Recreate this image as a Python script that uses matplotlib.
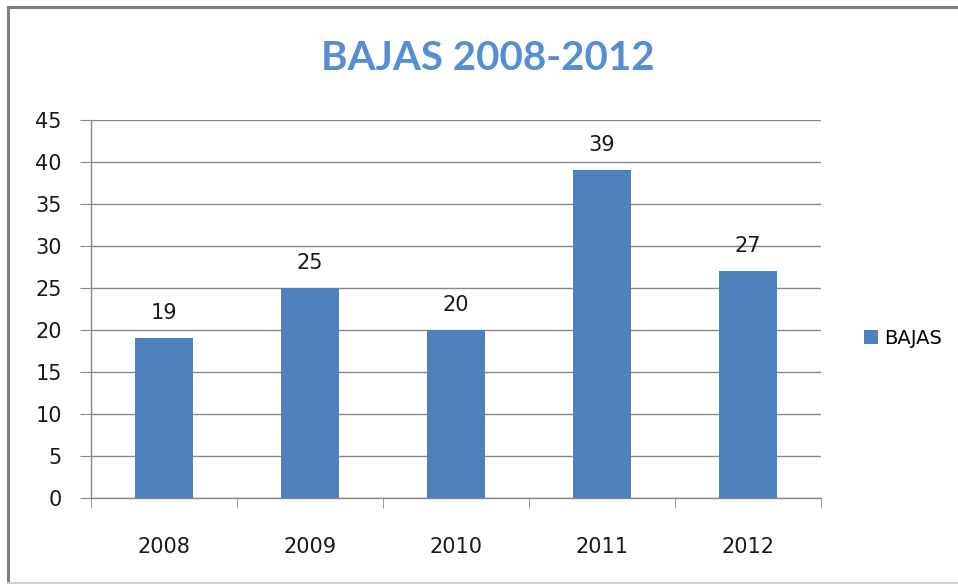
import matplotlib.pyplot as plt
from matplotlib.lines import Line2D

years = ["2008", "2009", "2010", "2011", "2012"]
bajas = [19, 25, 20, 39, 27]
yticks = [0, 5, 10, 15, 20, 25, 30, 35, 40, 45]

W, H = 958, 584
fig = plt.figure(figsize=(W / 100, H / 100), dpi=100)

# outer chart frame: dark top/left, faint bottom
fig.lines.append(Line2D([8 / W, 1], [1 - 7 / H, 1 - 7 / H], transform=fig.transFigure,
                        color="#7f7f7f", linewidth=2.2))
fig.lines.append(Line2D([8 / W, 8 / W], [1 - 7 / H, 1.5 / H], transform=fig.transFigure,
                        color="#7f7f7f", linewidth=2.2))
fig.lines.append(Line2D([8 / W, 1], [1.5 / H, 1.5 / H], transform=fig.transFigure,
                        color="#d0d0d0", linewidth=1.5))

ax = fig.add_axes([91 / W, (H - 498) / H, (821 - 91) / W, (498 - 120) / H])
x = list(range(len(years)))
bars = ax.bar(x, bajas, width=0.4, color="#4f81bd", label="BAJAS", zorder=3)

for xi, v in zip(x, bajas):
    ax.annotate(str(v), (xi, v), xytext=(0, 19), textcoords="offset pixels",
                ha="center", va="baseline", fontsize=15, color="#1a1a1a")

ax.set_xlim(-0.5, len(years) - 0.5)
ax.set_ylim(0, 45)
ax.set_yticks(yticks)
ax.set_xticks(x)
ax.set_xticklabels(years)
ax.set_xticks([i + 0.5 for i in range(-1, len(years))], minor=True)
ax.tick_params(axis="x", which="major", length=0, pad=28, labelsize=15, labelcolor="#1a1a1a")
ax.tick_params(axis="x", which="minor", length=7, color="#888888", direction="out")
ax.tick_params(axis="y", length=8, color="#888888", pad=13, labelsize=15, labelcolor="#1a1a1a")
ax.grid(axis="y", color="#888888", linewidth=1, zorder=0)
for s in ["top", "right"]:
    ax.spines[s].set_visible(False)
for s in ["left", "bottom"]:
    ax.spines[s].set_color("#888888")
    ax.spines[s].set_linewidth(1)

fig.text(488 / W, 1 - 58 / H, "BAJAS 2008-2012", ha="center", va="center",
         fontsize=29, fontweight="bold", color="#558ed5", family="Lato")

ax.legend(loc="center left", bbox_to_anchor=(846 / W, 1 - 338 / H), bbox_transform=fig.transFigure,
          frameon=False, fontsize=14, handlelength=0.75, handleheight=0.75, handletextpad=0.3)

fig.savefig("out.png", dpi=100)
